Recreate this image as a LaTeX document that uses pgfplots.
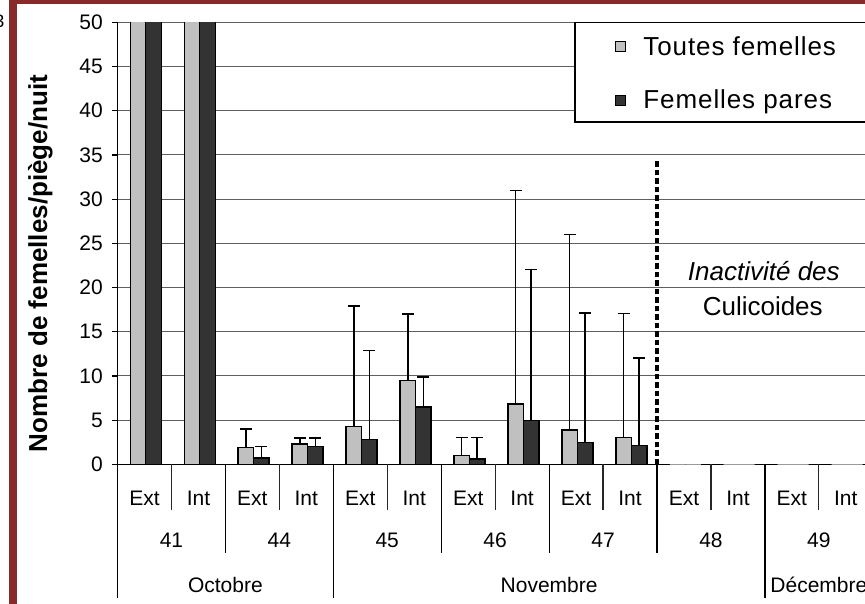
\documentclass[border=0pt]{standalone}
\usepackage{fontspec}
\setmainfont{Liberation Sans}
\usepackage{pgfplots}
\usepackage{pgfplotstable}
\pgfplotsset{compat=1.18}

\definecolor{cadre}{RGB}{137,42,42}
\definecolor{clair}{RGB}{192,192,192}
\definecolor{fonce}{RGB}{51,51,51}
\definecolor{grille}{RGB}{95,95,95}

% moyenne et ecart (vers le haut) par piege
\pgfplotstableread{
x  y     err
0  80    0
1  80    0
2  1.9   2.1
3  2.3   0.7
4  4.25  13.65
5  9.45  7.55
6  1.0   2.05
7  6.8   24.2
8  3.9   22.1
9  3.0   14.05
}\toutes
\pgfplotstableread{
x  y     err
0  80    0
1  80    0
2  0.7   1.3
3  2.0   1.0
4  2.8   10.05
5  6.5   3.4
6  0.6   2.45
7  4.95  17.1
8  2.5   14.6
9  2.15  9.85
}\pares
\pgfplotstableread{
x  y
10 0
11 0
12 0
13 0
}\inactif

\begin{document}
\begin{tikzpicture}
\useasboundingbox (0,0) rectangle (865pt,-604pt);
\fill[cadre] (9.3pt,0) rectangle (17.3pt,-604pt);
\fill[cadre] (9.3pt,0) rectangle (865pt,-4pt);
\node[anchor=base east, inner sep=0pt, font=\fontsize{18}{20}\selectfont] at (4.5pt,-28pt) {3};
\begin{axis}[
  at={(117.5pt,-464.3pt)}, anchor=south west,
  scale only axis, width=755.3pt, height=442pt,
  xmin=-0.5, xmax=13.5, ymin=0, ymax=50,
  axis lines*=left,
  axis line style={black, line width=1.2pt},
  ybar, bar width=15.5pt,
  clip mode=individual,
  ytick={0,5,...,50},
  ymajorgrids, grid style={grille, line width=1.1pt},
  tick align=outside, major tick length=6pt,
  ytick style={black, line width=1.2pt},
  xtick={0,...,13},
  xticklabels={Ext,Int,Ext,Int,Ext,Int,Ext,Int,Ext,Int,Ext,Int,Ext,Int},
  xtick style={draw=none},
  ticklabel style={font=\fontsize{21}{25}\selectfont},
  yticklabel style={anchor=east, inner sep=0pt, xshift=-8.5pt},
  xticklabel style={anchor=center, inner sep=0pt, yshift=-28pt},
  /pgf/number format/assume math mode=true,
  ylabel={Nombre de femelles/piège/nuit},
  ylabel style={font=\fontsize{26}{31}\selectfont\bfseries,
    at={(axis description cs:-0.0933,0.4543)}, anchor=base, inner sep=0pt},
  legend style={at={(axis description cs:0.659,0.968)}, anchor=north west,
    draw=none, fill=none,
    font=\fontsize{26}{31}\selectfont\addfontfeature{LetterSpace=3.5},
    row sep=33pt, column sep=17pt, inner sep=0pt, nodes={inner sep=0pt}},
  legend cell align=left,
  error bars/y dir=plus, error bars/y explicit,
  error bars/error bar style={black, line width=1.5pt},
  error bars/error mark options={black, rotate=90, mark size=6pt, line width=1.5pt},
]
\addplot[fill=clair, draw=black, line width=1.4pt, bar shift=-6.45pt,
  legend image code/.code={\draw[fill=clair, draw=black, line width=1pt] (0pt,-5pt) rectangle (10pt,5pt);}]
  table[x=x, y=y, y error=err] {\toutes};
\addlegendentry{Toutes femelles}
\addplot[fill=fonce, draw=black, line width=1.4pt, bar shift=9.05pt,
  legend image code/.code={\draw[fill=fonce, draw=black, line width=1pt] (0pt,-5pt) rectangle (10pt,5pt);}]
  table[x=x, y=y, y error=err] {\pares};
\addlegendentry{Femelles pares}
\addplot[forget plot, fill=clair, draw=clair!80!black, line width=1.2pt, bar shift=-6.45pt,
  error bars/y dir=none] table[x=x, y=y] {\inactif};
\addplot[forget plot, fill=fonce, draw=clair!80!black, line width=1.2pt, bar shift=9.05pt,
  error bars/y dir=none] table[x=x, y=y] {\inactif};

% cadre de la legende
\draw[black, line width=1.2pt, fill=white] (axis cs:7.98,50) rectangle (axis cs:14.5,38.72);

% limite d'activite
\draw[black, line width=3.5pt, dash pattern=on 5.5pt off 3pt] (axis cs:9.5,0) -- (axis cs:9.5,34.6);
\node[font=\fontsize{26}{31}\selectfont\itshape] at (axis cs:11.48,21.87) {Inactivité des};
\node[font=\fontsize{26}{31}\selectfont] at (axis cs:11.46,17.9) {Culicoides};

% tableau des categories sous l'axe
\pgfplotsinvokeforeach{0.5,2.5,4.5,6.5,8.5,10.5,12.5}{
  \draw[black!85, line width=1.2pt] (axis cs:#1,0) -- ++(0pt,-46pt);
}
\pgfplotsinvokeforeach{1.5,5.5,7.5,9.5}{
  \draw[black, line width=1.2pt] (axis cs:#1,0) -- ++(0pt,-89pt);
}
\pgfplotsinvokeforeach{-0.5,3.5,11.5}{
  \draw[black, line width=1.2pt] (axis cs:#1,0) -- ++(0pt,-134pt);
}
\begin{scope}[every node/.style={font=\fontsize{21}{25}\selectfont, inner sep=0pt}]
\node at ([yshift=-75.7pt]axis cs:0.5,0) {41};
\node at ([yshift=-75.7pt]axis cs:2.5,0) {44};
\node at ([yshift=-75.7pt]axis cs:4.5,0) {45};
\node at ([yshift=-75.7pt]axis cs:6.5,0) {46};
\node at ([yshift=-75.7pt]axis cs:8.5,0) {47};
\node at ([yshift=-75.7pt]axis cs:10.5,0) {48};
\node at ([yshift=-75.7pt]axis cs:12.5,0) {49};
\node at ([yshift=-120.2pt]axis cs:1.5,0) {Octobre};
\node at ([yshift=-120.2pt]axis cs:7.5,0) {Novembre};
\node at ([yshift=-120.2pt]axis cs:12.5,0) {Décembre};
\end{scope}
\end{axis}
\end{tikzpicture}
\end{document}
